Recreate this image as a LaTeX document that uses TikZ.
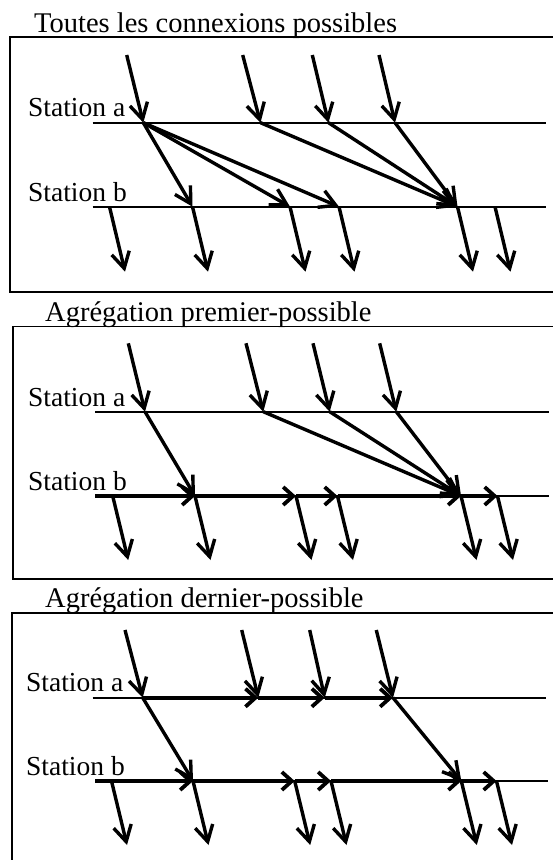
\documentclass[tikz,border=0pt]{standalone}
\usepackage{fontspec}
\setmainfont{Liberation Serif}
\usetikzlibrary{arrows.meta}
\begin{document}
\begin{tikzpicture}[x=1pt,y=-1pt,
  flowarrow/.style={line width=3.4pt,-{Straight Barb[length=16pt,width=18pt]}},
  waitarrow/.style={line width=4.2pt,-{Straight Barb[length=10pt,width=18pt,line width=3.8pt]}},
  stationline/.style={line width=2.1pt},
  panelframe/.style={line width=1.7pt},
  paneltitle/.style={anchor=base west,inner sep=0pt,font=\fontsize{28.5}{32}\selectfont},
  stlabel/.style={anchor=base west,inner sep=0pt,font=\fontsize{27.5}{32}\selectfont}]
\useasboundingbox (0,0) rectangle (553,860);
\clip (0,0) rectangle (553,860);

% ---------------- Panel 1 ----------------
\draw[panelframe] (10,37.3) rectangle (560,291.7);
\node[paneltitle] (t1) at (34,32) {Toutes les connexions possibles};
\node[stlabel] (p1la) at (28,116.7) {Station a};
\node[stlabel] (p1lb) at (28,201.7) {Station b};
\coordinate (p1aS) at (92.7,122.7); \coordinate (p1aE) at (546.3,122.7);
\coordinate (p1bS) at (92.7,206.7); \coordinate (p1bE) at (546,206.7);
\draw[stationline] (p1aS) -- (p1aE);
\draw[stationline] (p1bS) -- (p1bE);
\foreach \n/\s/\a in {1/126.7/143.3, 2/242.7/260.5, 3/312.3/328.5, 4/379/395}{
  \coordinate (p1i\n) at (\s,55);
  \coordinate (p1a\n) at (\a,122.7);
}
\foreach \n/\x in {1/192.5, 2/109.5, 3/290, 4/339, 5/457.5, 6/495}{
  \coordinate (p1b\n) at (\x,206.7);
  \coordinate (p1o\n) at (\x+15.5,271.7);
}
\foreach \n in {1,...,4} \draw[flowarrow] (p1i\n) -- (p1a\n);
\foreach \n in {1,...,6} \draw[flowarrow] (p1b\n) -- (p1o\n);
\draw[flowarrow] (p1a1) -- (p1b1);
\draw[flowarrow] (p1a1) -- (p1b3);
\draw[flowarrow] (p1a1) -- (p1b4);
\draw[flowarrow] (p1a2) -- (p1b5);
\draw[flowarrow] (p1a3) -- (p1b5);
\draw[flowarrow] (p1a4) -- (p1b5);

% ---------------- Panel 2 ----------------
\draw[panelframe] (12.7,326.5) rectangle (560,578.8);
\node[paneltitle] (t2) at (45,321.7) {Agrégation premier-possible};
\node[stlabel] (p2la) at (28,406.7) {Station a};
\node[stlabel] (p2lb) at (28,490) {Station b};
\coordinate (p2aS) at (95,411.7); \coordinate (p2aE) at (549,411.7);
\coordinate (p2bS) at (95,496); \coordinate (p2bE) at (549,496);
\draw[stationline] (p2aS) -- (p2aE);
\draw[stationline] (p2bS) -- (p2bE);
\foreach \n/\s/\a in {1/128.3/145, 2/246/263.3, 3/313/329.7, 4/379.7/396.3}{
  \coordinate (p2i\n) at (\s,343.3);
  \coordinate (p2a\n) at (\a,411.7);
}
\foreach \n/\x in {1/195, 2/112.7, 3/296, 4/337.5, 5/461, 6/497.5}{
  \coordinate (p2b\n) at (\x,496);
  \coordinate (p2o\n) at (\x+15.5,560);
}
\draw[waitarrow] (p2bS) -- (p2b1);
\draw[waitarrow] (p2b1) -- (p2b3);
\draw[waitarrow] (p2b3) -- (p2b4);
\draw[waitarrow] (p2b4) -- (p2b5);
\draw[waitarrow] (p2b5) -- (p2b6);
\foreach \n in {1,...,4} \draw[flowarrow] (p2i\n) -- (p2a\n);
\foreach \n in {1,...,6} \draw[flowarrow] (p2b\n) -- (p2o\n);
\draw[flowarrow] (p2a1) -- (p2b1);
\draw[flowarrow] (p2a2) -- (p2b5);
\draw[flowarrow] (p2a3) -- (p2b5);
\draw[flowarrow] (p2a4) -- (p2b5);

% ---------------- Panel 3 ----------------
\draw[panelframe] (11.7,613.3) rectangle (560,880);
\node[paneltitle] (t3) at (45,607.3) {Agrégation dernier-possible};
\node[stlabel] (p3la) at (26,691.7) {Station a};
\node[stlabel] (p3lb) at (26,775) {Station b};
\coordinate (p3aS) at (92.7,697.7); \coordinate (p3aE) at (546,697.7);
\coordinate (p3bS) at (95,781); \coordinate (p3bE) at (548,781);
\draw[stationline] (p3aS) -- (p3aE);
\draw[stationline] (p3bS) -- (p3bE);
\foreach \n/\s/\a in {1/125/142.7, 2/241.7/258.3, 3/309.7/324.7, 4/376.3/393}{
  \coordinate (p3i\n) at (\s,630);
  \coordinate (p3a\n) at (\a,697.7);
}
\foreach \n/\x in {1/193, 2/111.5, 3/294.7, 4/331, 5/461.3, 6/496.5}{
  \coordinate (p3b\n) at (\x,781);
  \coordinate (p3o\n) at (\x+15.5,845);
}
\draw[waitarrow] (p3a1) -- (p3a2);
\draw[waitarrow] (p3a2) -- (p3a3);
\draw[waitarrow] (p3a3) -- (p3a4);
\draw[waitarrow] (p3bS) -- (p3b1);
\draw[waitarrow] (p3b1) -- (p3b3);
\draw[waitarrow] (p3b3) -- (p3b4);
\draw[waitarrow] (p3b4) -- (p3b5);
\draw[waitarrow] (p3b5) -- (p3b6);
\foreach \n in {1,...,4} \draw[flowarrow] (p3i\n) -- (p3a\n);
\foreach \n in {1,...,6} \draw[flowarrow] (p3b\n) -- (p3o\n);
\draw[flowarrow] (p3a1) -- (p3b1);
\draw[flowarrow] (p3a4) -- (p3b5);
\end{tikzpicture}
\end{document}
